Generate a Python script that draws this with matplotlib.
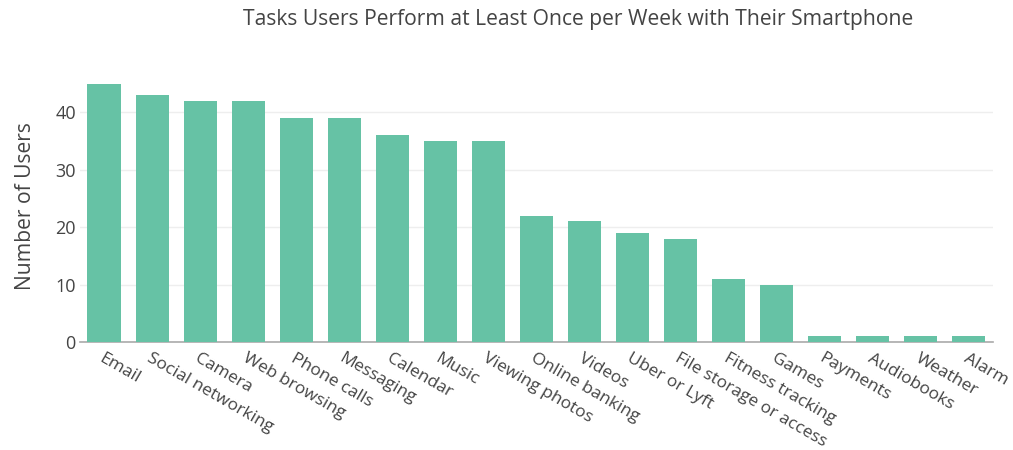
import numpy as np
import matplotlib.pyplot as plt

plt.rcParams['font.family'] = ['Open Sans', 'DejaVu Sans']

tasks = ["Email", "Social networking", "Camera", "Web browsing", "Phone calls",
         "Messaging", "Calendar", "Music", "Viewing photos", "Online banking",
         "Videos", "Uber or Lyft", "File storage or access", "Fitness tracking",
         "Games", "Payments", "Audiobooks", "Weather", "Alarm"]
users = [45, 43, 42, 42, 39, 39, 36, 35, 35, 22, 21, 19, 18, 11, 10, 1, 1, 1, 1]

txt = '#444444'

fig = plt.figure(figsize=(10.13, 4.5), dpi=100)
ax = fig.add_axes([0.079, 0.24, 0.901, 0.605])

x = np.arange(len(tasks))
ax.bar(x, users, width=0.69, color='#66c2a5', zorder=3)

ax.set_xlim(-0.5, len(tasks) - 0.5)
ax.set_ylim(0, 47.4)
ax.set_yticks([0, 10, 20, 30, 40])
ax.grid(axis='y', color='#eeeeee', linewidth=1, zorder=0)

for s in ['top', 'right', 'left']:
    ax.spines[s].set_visible(False)
ax.spines['bottom'].set_color('#aaaaaa')
ax.spines['bottom'].set_linewidth(1.2)

ax.set_xticks(x)
ax.set_xticklabels(tasks, rotation=-30, ha='left', va='top',
                   rotation_mode='anchor', fontsize=12.5, color=txt)
ax.tick_params(axis='x', length=0, pad=6)
ax.tick_params(axis='y', length=0, labelsize=13, labelcolor=txt, pad=3)

ax.set_ylabel("Number of Users", fontsize=15.2, color=txt, labelpad=14)

fig.text(0.571, 0.957, "Tasks Users Perform at Least Once per Week with Their Smartphone",
         ha='center', va='center', fontsize=15.2, color=txt)

fig.savefig('out.png', dpi=100)
